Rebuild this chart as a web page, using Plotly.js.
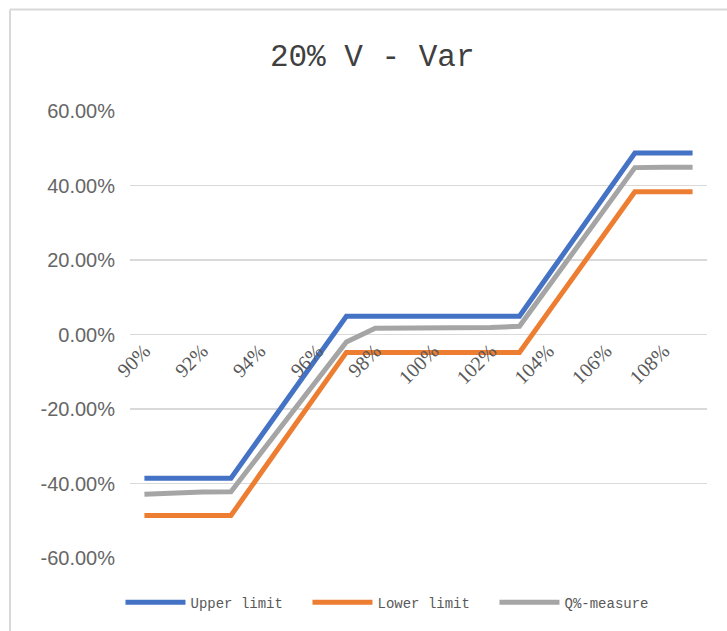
<!DOCTYPE html>
<html>
<head>
<meta charset="utf-8">
<script src="https://cdn.plot.ly/plotly-3.0.1.min.js"></script>
<style>html,body{margin:0;padding:0;background:#fff;}#chart{width:727px;height:631px;}</style>
</head>
<body>
<div id="chart"></div>
<script>
const categories = [90,91,92,93,94,95,96,97,98,99,100,101,102,103,104,105,106,107,108,109];
const upperLimit = [-38.6,-38.6,-38.6,-38.6,-27.7,-16.7,-5.8,4.9,4.9,4.9,4.9,4.9,4.9,4.9,15.9,26.8,37.8,48.7,48.7,48.7];
const lowerLimit = [-48.6,-48.6,-48.6,-48.6,-37.6,-26.7,-15.7,-4.8,-4.8,-4.8,-4.8,-4.8,-4.8,-4.8,6.0,16.8,27.6,38.3,38.3,38.3];
const qMeasure   = [-42.9,-42.5,-42.3,-42.2,-32.2,-22.1,-12.1,-2.0,1.7,1.7,1.7,1.8,1.9,2.2,12.9,23.5,34.2,44.8,44.9,44.9];
const xTickVals = [90,92,94,96,98,100,102,104,106,108];
const xTickText = ["90%","92%","94%","96%","98%","100%","102%","104%","106%","108%"];
const yTickVals = [-60,-40,-20,0,20,40,60];
const yTickText = ["-60.00%","-40.00%","-20.00%","0.00%","20.00%","40.00%","60.00%"];

const traces = [
  {x: categories, y: upperLimit, name: "Upper limit", type: "scatter", mode: "lines",
   line: {color: "#4472C4", width: 5}},
  {x: categories, y: lowerLimit, name: "Lower limit", type: "scatter", mode: "lines",
   line: {color: "#ED7D31", width: 5}},
  {x: categories, y: qMeasure, name: "Q%-measure", type: "scatter", mode: "lines",
   line: {color: "#A5A5A5", width: 5}}
];

const layout = {
  width: 727, height: 631,
  margin: {l: 130, r: 20, t: 111, b: 70},
  paper_bgcolor: "#ffffff", plot_bgcolor: "#ffffff",
  title: {text: "20% V - Var", x: 0.512, xref: "container", xanchor: "center",
          y: 1 - 55/631, yref: "container", yanchor: "middle",
          font: {family: "Liberation Mono, monospace", size: 31, color: "#404040"}},
  xaxis: {type: "linear", range: [89.5, 109.5], tickvals: xTickVals, ticktext: xTickText,
          tickangle: -45, anchor: "free", position: 0.5, showgrid: false, zeroline: false,
          showline: false, ticks: "", ticklen: 0,
          tickfont: {family: "Liberation Serif, serif", size: 20, color: "#595959"}},
  yaxis: {range: [-60, 60], tickvals: yTickVals, ticktext: yTickText, showgrid: true,
          gridcolor: "#D9D9D9", gridwidth: 1.3, zeroline: false, showline: false, ticks: "",
          ticklabelstandoff: 14,
          tickfont: {family: "Liberation Sans, Arial, sans-serif", size: 20, color: "#666666"}},
  showlegend: true,
  legend: {orientation: "h", x: -0.0165, xanchor: "left", y: -0.10, yanchor: "middle",
           itemwidth: 60, entrywidth: 112, entrywidthmode: "pixels", traceorder: "normal",
           font: {family: "Liberation Mono, monospace", size: 14, color: "#595959"}},
  shapes: [
    {type: "line", xref: "paper", yref: "paper", x0: -0.208, x1: 1.2, y0: 1.227, y1: 1.227,
     line: {color: "#D9D9D9", width: 2}},
    {type: "line", xref: "paper", yref: "paper", x0: -0.208, x1: -0.208, y0: 1.227, y1: -0.3,
     line: {color: "#D9D9D9", width: 2}}
  ]
};

Plotly.newPlot("chart", traces, layout, {displayModeBar: false, staticPlot: true});
</script>
</body>
</html>
